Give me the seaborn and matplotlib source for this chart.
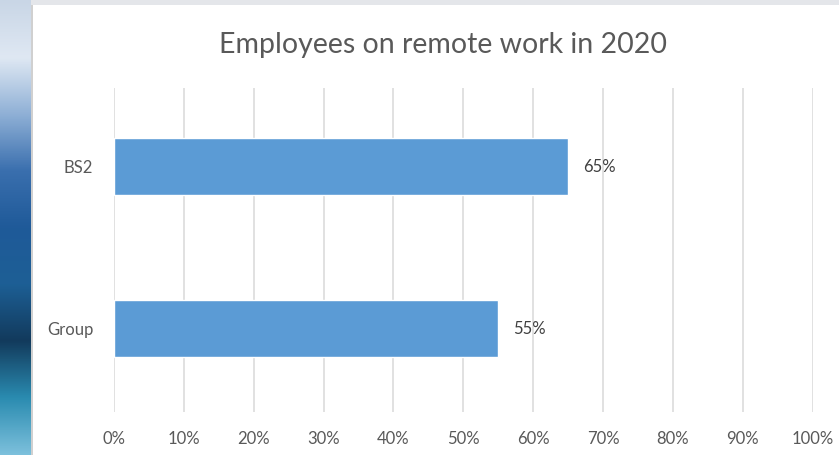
import numpy as np
import pandas as pd
import matplotlib
matplotlib.use("Agg")
import matplotlib.pyplot as plt
import seaborn as sns
from matplotlib.colors import LinearSegmentedColormap
from matplotlib.ticker import FuncFormatter, MultipleLocator

# Data
categories = ["BS2", "Group"]
remote_share = [0.65, 0.55]
title = "Employees on remote work in 2020"

df = pd.DataFrame({"unit": categories, "share": remote_share})

sns.set_theme(style="white")
plt.rcParams["font.family"] = ["Lato", "DejaVu Sans"]

W, H = 839, 455
fig = plt.figure(figsize=(W / 100, H / 100), dpi=100)
fig.patch.set_facecolor("white")

# Decorative photo strip along the left edge and a thin band at the top
strip = fig.add_axes([0, 0, 31 / W, 1])
cmap = LinearSegmentedColormap.from_list(
    "slide", ["#c9d6e6", "#dfe8f3", "#8fb0d6", "#3a6fae", "#1f5a99",
              "#1d5f95", "#123a5c", "#2a8bb0", "#7cc0dc"])
grad = np.linspace(0, 1, 256).reshape(-1, 1)
strip.imshow(grad, aspect="auto", cmap=cmap, extent=[0, 1, 0, 1], origin="upper")
strip.axis("off")
top = fig.add_axes([31 / W, 1 - 5 / H, 1 - 31 / W, 5 / H])
top.set_facecolor("#e4e6ea")
top.set_xticks([]); top.set_yticks([])
for s in top.spines.values():
    s.set_visible(False)
edge = fig.add_axes([31 / W, 0, 1.5 / W, 1 - 5 / H])
edge.set_facecolor("#d0d0d0")
edge.set_xticks([]); edge.set_yticks([])
for s in edge.spines.values():
    s.set_visible(False)

# Main chart
left_px, right_px, top_px, bottom_px = 114, 812.5, 88, 412
ax = fig.add_axes([left_px / W, 1 - bottom_px / H,
                   (right_px - left_px) / W, (bottom_px - top_px) / H])
sns.barplot(data=df, x="share", y="unit", orient="h", color="#5B9BD5",
            width=0.352, saturation=1, ax=ax)

ax.set_xlim(0, 1)
ax.set_ylim(1.515, -0.485)
ax.xaxis.set_major_locator(MultipleLocator(0.1))
ax.xaxis.set_major_formatter(FuncFormatter(lambda v, p: f"{v:.0%}"))
ax.grid(axis="x", color="#D9D9D9", linewidth=1.1)
ax.set_axisbelow(True)
for s in ax.spines.values():
    s.set_visible(False)
ax.set_xlabel("")
ax.set_ylabel("")
ax.tick_params(axis="x", length=0, pad=14, labelsize=12, labelcolor="#595959")
ax.tick_params(axis="y", length=0, pad=15, labelsize=12, labelcolor="#595959")

for i, v in enumerate(remote_share):
    ax.annotate(f"{v:.0%}", xy=(v, i), xytext=(11, 0), textcoords="offset points",
                ha="left", va="center", fontsize=12, color="#404040")

fig.text(443 / W, 1 - 45 / H, title, ha="center", va="center",
         fontsize=20.5, color="#595959")

fig.savefig("out.png", dpi=100, facecolor="white")
